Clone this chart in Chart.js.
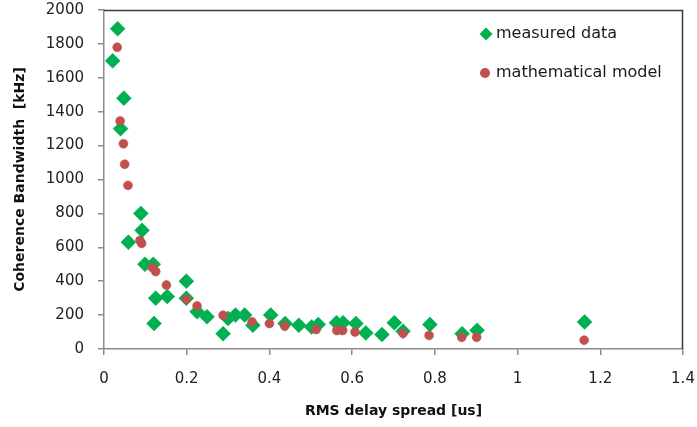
<!DOCTYPE html>
<html>
<head>
<meta charset="utf-8">
<script src="https://cdn.jsdelivr.net/npm/chart.js@4/dist/chart.umd.min.js"></script>
<style>
  html, body { margin: 0; padding: 0; background: #fff; }
  #c { display: block; }
</style>
</head>
<body>
<canvas id="c" width="697" height="427"></canvas>
<script>
// ---- data ----
const measuredX = [0.021, 0.033, 0.048, 0.040, 0.059, 0.089, 0.092, 0.099, 0.119, 0.121, 0.125, 0.153,
  0.199, 0.199, 0.225, 0.249, 0.288, 0.300, 0.318, 0.340, 0.360, 0.403, 0.438, 0.471, 0.502, 0.518,
  0.562, 0.578, 0.609, 0.633, 0.672, 0.702, 0.723, 0.788, 0.866, 0.902, 1.162];
const measuredY = [1700, 1890, 1480, 1300, 630, 800, 700, 500, 500, 150, 300, 310,
  400, 300, 220, 190, 90, 180, 200, 200, 140, 200, 150, 140, 130, 145,
  155, 155, 150, 95, 85, 155, 105, 145, 90, 110, 160];

const modelX = [0.032, 0.039, 0.047, 0.050, 0.058, 0.087, 0.091, 0.117, 0.125, 0.151, 0.199, 0.225,
  0.288, 0.358, 0.400, 0.437, 0.513, 0.563, 0.577, 0.607, 0.723, 0.786, 0.865, 0.901, 1.161];
const modelY = [1780, 1345, 1211, 1090, 965, 640, 623, 481, 457, 377, 294, 254,
  199, 160, 150, 135, 115, 109, 109, 100, 93, 80, 69, 69, 52];

const seriesNames = ['measured data', 'mathematical model'];
const xTitle = 'RMS delay spread [us]';
const yTitle = 'Coherence Bandwidth  [kHz]';

const GREEN = '#00B050';
const RED = '#C0504D';

const toPts = (xs, ys) => xs.map((x, i) => ({ x: x, y: ys[i] }));

const legendPlugin = {
  id: 'customLegend',
  afterDraw(chart) {
    const ctx = chart.ctx;
    ctx.save();
    // plot-area border (top and right)
    const a = chart.chartArea;
    ctx.strokeStyle = '#3a3a3a';
    ctx.lineWidth = 1.5;
    ctx.beginPath();
    ctx.moveTo(a.left, a.top + 0.5);
    ctx.lineTo(a.right - 0.5, a.top + 0.5);
    ctx.lineTo(a.right - 0.5, a.bottom);
    ctx.stroke();

    ctx.font = '16px "DejaVu Sans"';
    ctx.textBaseline = 'middle';
    ctx.textAlign = 'left';
    // diamond
    const dx = 486, dy = 34, r = 6.5;
    ctx.fillStyle = GREEN;
    ctx.beginPath();
    ctx.moveTo(dx - r, dy); ctx.lineTo(dx, dy - r); ctx.lineTo(dx + r, dy); ctx.lineTo(dx, dy + r);
    ctx.closePath(); ctx.fill();
    // circle
    ctx.fillStyle = RED;
    ctx.beginPath();
    ctx.arc(485, 73, 5, 0, Math.PI * 2);
    ctx.fill();
    ctx.fillStyle = '#1a1a1a';
    ctx.fillText(seriesNames[0], 496, 34);
    ctx.fillText(seriesNames[1], 496, 73);
    ctx.restore();
  }
};

new Chart(document.getElementById('c'), {
  type: 'scatter',
  data: {
    datasets: [
      {
        label: seriesNames[1],
        data: toPts(modelX, modelY),
        pointStyle: 'circle',
        pointRadius: 4.5,
        pointBackgroundColor: RED,
        pointBorderColor: RED,
        pointBorderWidth: 0.5,
        order: 0
      },
      {
        label: seriesNames[0],
        data: toPts(measuredX, measuredY),
        pointStyle: 'rectRot',
        pointRadius: 7.5,
        pointBackgroundColor: GREEN,
        pointBorderColor: GREEN,
        pointBorderWidth: 0.5,
        order: 1
      }
    ]
  },
  options: {
    responsive: false,
    animation: false,
    layout: { padding: { top: 10, right: 14, left: 0, bottom: 0 } },
    plugins: {
      legend: { display: false },
      tooltip: { enabled: false }
    },
    scales: {
      x: {
        type: 'linear',
        min: 0, max: 1.4,
        afterFit(s) { s.height = 78; s.paddingLeft = 0; s.paddingRight = 0; },
        border: { color: '#8c8c8c', width: 1.5 },
        grid: { drawOnChartArea: false, drawTicks: true, tickLength: 6, color: '#8c8c8c', lineWidth: 1.5 },
        ticks: {
          stepSize: 0.2,
          padding: 15,
          color: '#222',
          font: { family: '"DejaVu Sans"', size: 15 },
          maxRotation: 0,
          callback: v => String(Number(v.toFixed(1)))
        },
        title: {
          display: true,
          text: xTitle,
          color: '#111',
          font: { family: '"DejaVu Sans"', size: 14, weight: 'bold' },
          padding: { top: 0, bottom: 7 }
        }
      },
      y: {
        type: 'linear',
        min: 0, max: 2000,
        afterFit(s) { s.width = 104; s.paddingTop = 0; s.paddingBottom = 0; },
        border: { color: '#8c8c8c', width: 1.5 },
        grid: { drawOnChartArea: false, drawTicks: true, tickLength: 6, color: '#8c8c8c', lineWidth: 1.5 },
        ticks: {
          stepSize: 200,
          padding: 14,
          color: '#222',
          font: { family: '"DejaVu Sans"', size: 15 },
          callback: v => String(v)
        },
        title: {
          display: true,
          text: yTitle,
          color: '#111',
          font: { family: '"DejaVu Sans"', size: 14, weight: 'bold' },
          padding: { top: 12, bottom: 0 }
        }
      }
    }
  },
  plugins: [legendPlugin]
});
</script>
</body>
</html>
